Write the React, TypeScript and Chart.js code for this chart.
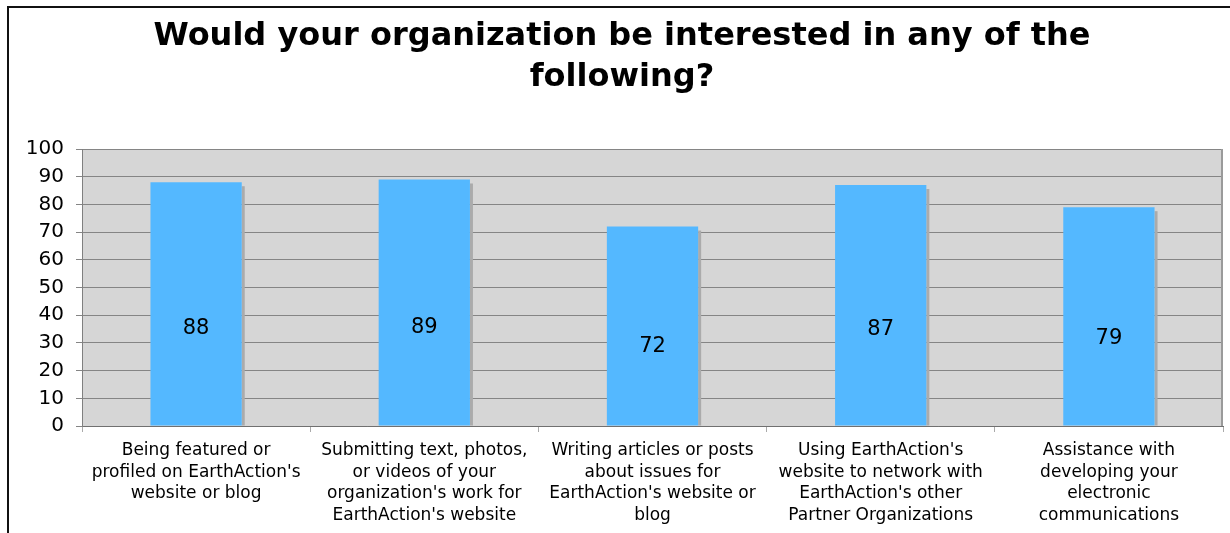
import React, { useEffect, useRef } from "react";
import { Chart, registerables } from "chart.js";

Chart.register(...registerables);

const titleLines = ["Would your organization be interested in any of the", "following?"];

const categories: string[][] = [
  ["Being featured or", "profiled on EarthAction's", "website or blog"],
  ["Submitting text, photos,", "or videos of your", "organization's work for", "EarthAction's website"],
  ["Writing articles or posts", "about issues for", "EarthAction's website or", "blog"],
  ["Using EarthAction's", "website to network with", "EarthAction's other", "Partner Organizations"],
  ["Assistance with", "developing your", "electronic", "communications"],
];

const values = [88, 89, 72, 87, 79];

const yMin = 0;
const yMax = 100;
const yStep = 10;

const FONT = "'DejaVu Sans', Verdana, sans-serif";

const plotBackground = {
  id: "plotBackground",
  beforeDraw(chart: any) {
    const { ctx, chartArea } = chart;
    ctx.save();
    ctx.fillStyle = "#d6d6d6";
    ctx.fillRect(chartArea.left, chartArea.top, chartArea.right - chartArea.left, chartArea.bottom - chartArea.top);
    ctx.restore();
  },
  afterDraw(chart: any) {
    const { ctx, chartArea } = chart;
    ctx.save();
    ctx.strokeStyle = "#9a9a9a";
    ctx.lineWidth = 2;
    ctx.beginPath();
    ctx.moveTo(chartArea.right - 1, chartArea.top);
    ctx.lineTo(chartArea.right - 1, chartArea.bottom);
    ctx.stroke();
    ctx.restore();
  },
};

const barShadow = {
  id: "barShadow",
  beforeDatasetsDraw(chart: any) {
    const { ctx } = chart;
    const meta = chart.getDatasetMeta(0);
    ctx.save();
    ctx.fillStyle = "#ababab";
    meta.data.forEach((bar: any) => {
      const right = bar.x + bar.width / 2;
      ctx.fillRect(right, bar.y + 4, 3, bar.base - bar.y - 4);
    });
    ctx.restore();
  },
};

const valueLabels = {
  id: "valueLabels",
  afterDatasetsDraw(chart: any) {
    const { ctx } = chart;
    const meta = chart.getDatasetMeta(0);
    const yScale = chart.scales.y;
    ctx.save();
    ctx.fillStyle = "#000";
    ctx.font = `21px ${FONT}`;
    ctx.textAlign = "center";
    ctx.textBaseline = "middle";
    meta.data.forEach((bar: any, i: number) => {
      const v = values[i];
      ctx.fillText(String(v), bar.x, yScale.getPixelForValue(v * 0.4));
    });
    ctx.restore();
  },
};

export default function App() {
  const canvasRef = useRef<HTMLCanvasElement | null>(null);

  useEffect(() => {
    if (!canvasRef.current) return;
    const chart = new Chart(canvasRef.current, {
      type: "bar",
      data: {
        labels: categories,
        datasets: [
          {
            data: values,
            backgroundColor: "#54b8ff",
            borderWidth: 0,
            categoryPercentage: 1,
            barPercentage: 0.4,
          },
        ],
      },
      options: {
        animation: false,
        responsive: false,
        maintainAspectRatio: false,
        layout: { padding: { left: 21, right: 7, top: 0, bottom: 0 } },
        plugins: {
          legend: { display: false },
          tooltip: { enabled: false },
          title: {
            display: true,
            text: titleLines,
            color: "#000",
            font: { family: FONT, size: 32, weight: "bold", lineHeight: 41 / 32 },
            padding: { top: 16, bottom: 51 },
          },
        },
        scales: {
          x: {
            offset: true,
            grid: {
              display: true,
              offset: true,
              drawOnChartArea: false,
              drawTicks: true,
              tickLength: 6,
              color: "#aaaaaa",
            },
            border: { display: true, color: "#707070", width: 1 },
            ticks: {
              color: "#000",
              font: { family: FONT, size: 17, lineHeight: 1.27 },
              padding: 8,
              maxRotation: 0,
              minRotation: 0,
              autoSkip: false,
            },
            afterFit(scale: any) {
              scale.height = 107;
            },
          },
          y: {
            min: yMin,
            max: yMax,
            grid: {
              color: "#858585",
              lineWidth: 1,
              tickLength: 6,
              drawTicks: true,
            },
            border: { display: true, color: "#808080", width: 1 },
            ticks: {
              stepSize: yStep,
              color: "#000",
              font: { family: FONT, size: 20 },
              padding: 12,
            },
            afterFit(scale: any) {
              scale.width = 61;
            },
          },
        },
      },
      plugins: [plotBackground, barShadow, valueLabels],
    });
    return () => chart.destroy();
  }, []);

  return (
    <div style={{ position: "absolute", left: 0, top: 0, width: 1230, height: 533, background: "#fff", overflow: "hidden" }}>
      <div
        style={{
          position: "absolute",
          left: 7,
          top: 6,
          width: 1240,
          height: 600,
          borderTop: "2px solid #111",
          borderLeft: "2px solid #111",
        }}
      />
      <canvas ref={canvasRef} width={1230} height={533} style={{ position: "absolute", left: 0, top: 0, display: "block" }} />
    </div>
  );
}
